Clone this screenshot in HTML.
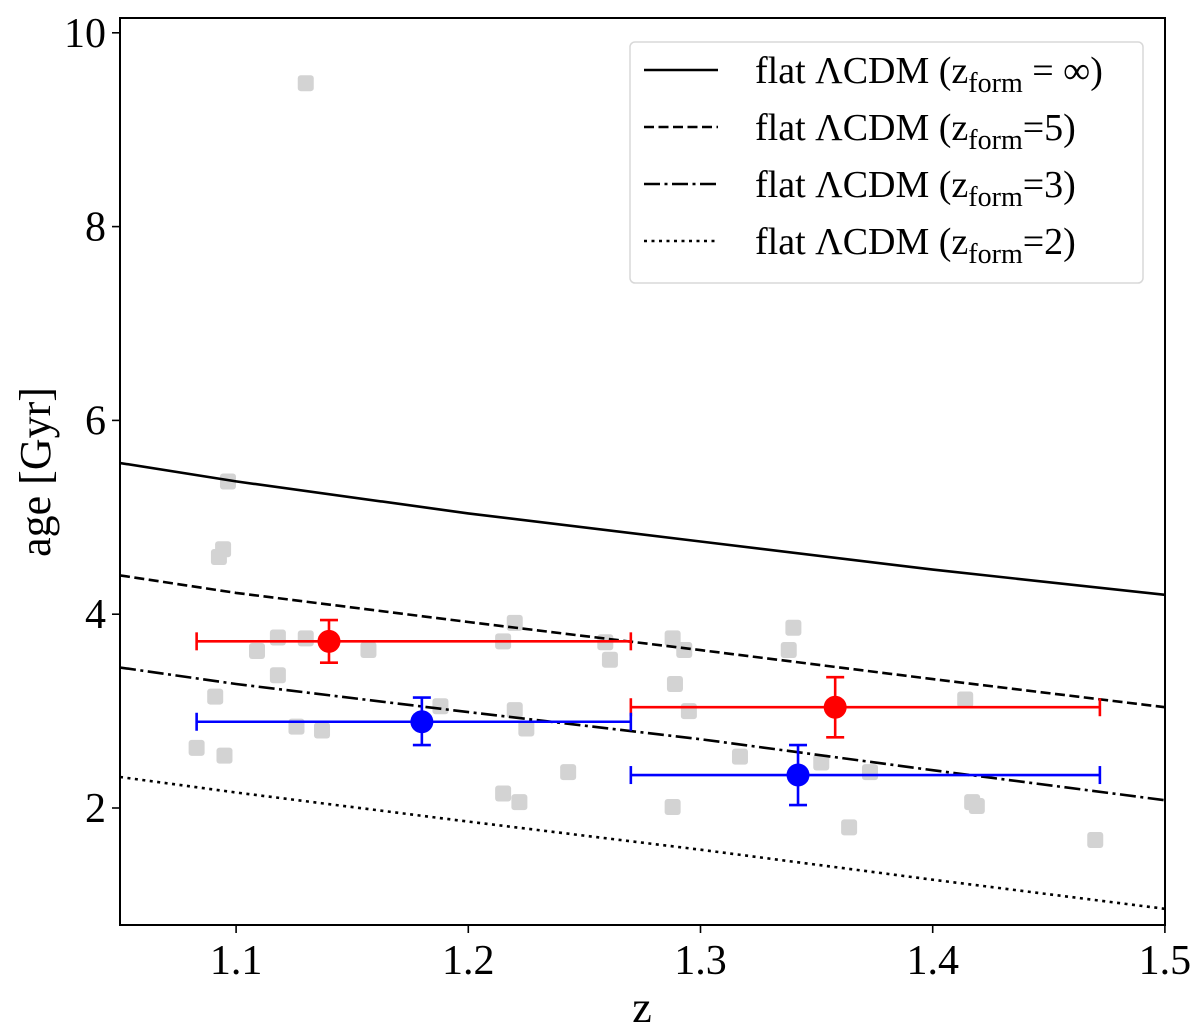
<!DOCTYPE html>
<html><head><meta charset="utf-8"><style>
html,body{margin:0;padding:0;background:#fff}
svg{display:block;font-family:"Liberation Serif","DejaVu Serif",serif}
</style></head><body>
<svg id="chart" width="1200" height="1029" viewBox="0 0 1200 1029">
</svg>
<script>
const curveZ=[1.05,1.1,1.2,1.3,1.4,1.5];
const curveInf=[5.56,5.37,5.04,4.75,4.46,4.20];
const curve5=[4.40,4.22,3.92,3.63,3.33,3.04];
const curve3=[3.45,3.28,2.99,2.71,2.39,2.08];
const curve2=[2.32,2.16,1.86,1.57,1.26,0.96];
const grayZ=[1.130,1.0965,1.0944,1.0926,1.118,1.109,1.118,1.130,1.157,1.091,1.083,1.095,1.126,1.137,1.188,1.215,1.220,1.259,1.261,1.220,1.225,1.215,1.222,1.243,1.288,1.293,1.289,1.295,1.288,1.317,1.338,1.340,1.352,1.373,1.364,1.414,1.417,1.419,1.470];
const grayAge=[9.48,5.37,4.67,4.59,3.76,3.62,3.37,3.75,3.63,3.15,2.62,2.54,2.84,2.80,3.05,3.72,3.91,3.71,3.53,3.01,2.82,2.15,2.06,2.37,3.75,3.63,3.28,3.00,2.01,2.53,3.63,3.86,2.47,2.37,1.80,3.12,2.06,2.02,1.67];
const redZ=[1.140,1.358],redAge=[3.72,3.04],redXlo=[1.083,1.270],redXhi=[1.270,1.472],redYlo=[3.50,2.73],redYhi=[3.94,3.35];
const blueZ=[1.180,1.342],blueAge=[2.89,2.34],blueXlo=[1.083,1.270],blueXhi=[1.270,1.472],blueYlo=[2.65,2.03],blueYhi=[3.14,2.65];
const xTicks=[1.1,1.2,1.3,1.4,1.5];
const yTicks=[2,4,6,8,10];

const NS="http://www.w3.org/2000/svg";
const svg=document.getElementById('chart');
const X=z=>120+(z-1.05)*2322;
const Y=v=>808-(v-2)*96.9;
function mk(tag,attrs,parent){const e=document.createElementNS(NS,tag);for(const k in attrs)e.setAttribute(k,attrs[k]);(parent||svg).appendChild(e);return e;}

const defs=mk('defs',{});const cp=mk('clipPath',{id:'clip'},defs);mk('rect',{x:120,y:18,width:1045,height:907},cp);
const plot=mk('g',{'clip-path':'url(#clip)'});



grayZ.forEach((z,i)=>{const r=mk('rect',{x:X(z)-8,y:Y(grayAge[i])-8,width:16,height:16,rx:3,fill:'#d3d3d3'},plot);

});

function curve(vals,dash,name){const d=curveZ.map((z,i)=>(i?'L':'M')+X(z).toFixed(1)+' '+Y(vals[i]).toFixed(1)).join(' ');
const p=mk('path',{d:d,fill:'none',stroke:'#000','stroke-width':2.6},plot);if(dash)p.setAttribute('stroke-dasharray',dash);

}
curve(curveInf,null,'curve-zform-inf');
curve(curve5,'10,4.5','curve-zform-5');
curve(curve3,'16,4.5,3,4.5','curve-zform-3');
curve(curve2,'3,4.5','curve-zform-2');

function eb(zs,ag,xl,xh,yl,yh,col,name){zs.forEach((z,i)=>{const g=mk('g',{stroke:col,'stroke-width':2.6},plot);


const y=Y(ag[i]),x=X(z);
mk('line',{x1:X(xl[i]),x2:X(xh[i]),y1:y,y2:y},g);
mk('line',{x1:X(xl[i]),x2:X(xl[i]),y1:y-9,y2:y+9},g);
mk('line',{x1:X(xh[i]),x2:X(xh[i]),y1:y-9,y2:y+9},g);
mk('line',{x1:x,x2:x,y1:Y(yl[i]),y2:Y(yh[i])},g);
mk('line',{x1:x-9,x2:x+9,y1:Y(yl[i]),y2:Y(yl[i])},g);
mk('line',{x1:x-9,x2:x+9,y1:Y(yh[i]),y2:Y(yh[i])},g);
mk('circle',{cx:x,cy:y,r:11.5,fill:col,stroke:'none'},g);});}
eb(redZ,redAge,redXlo,redXhi,redYlo,redYhi,'#ff0000','red-bin-point');
eb(blueZ,blueAge,blueXlo,blueXhi,blueYlo,blueYhi,'#0000ff','blue-bin-point');

const fr=mk('rect',{x:120,y:18,width:1045,height:907,fill:'none',stroke:'#000','stroke-width':2});



xTicks.forEach(t=>{mk('line',{x1:X(t),x2:X(t),y1:925,y2:933,stroke:'#000','stroke-width':1.6});
const tx=mk('text',{x:X(t),y:974,'font-size':42,'text-anchor':'middle'});tx.textContent=t.toFixed(1);

});
yTicks.forEach(t=>{mk('line',{x1:112,x2:120,y1:Y(t),y2:Y(t),stroke:'#000','stroke-width':1.6});
const tx=mk('text',{x:106,y:Y(t)+14,'font-size':42,'text-anchor':'end'});tx.textContent=t;

});

const xt=mk('text',{x:642,y:1022,'font-size':44,'text-anchor':'middle'});xt.textContent='z';


const yt=mk('text',{x:0,y:0,'font-size':44,'text-anchor':'middle',transform:'translate(50,472) rotate(-90)'});yt.textContent='age [Gyr]';


const lg=mk('g',{});


mk('rect',{x:630,y:42,width:513,height:241,rx:5,fill:'#fff',stroke:'#d8d8d8','stroke-width':1.5},lg);
const dashes=[null,'10,4.5','16,4.5,3,4.5','3,4.5'];const labels=[' = ∞)','=5)','=3)','=2)'];
dashes.forEach((d,i)=>{const y=76+i*57;
const l=mk('line',{x1:644,x2:718,y1:y-6,y2:y-6,stroke:'#000','stroke-width':2.6},lg);if(d)l.setAttribute('stroke-dasharray',d);


const t=mk('text',{x:755,y:y+7,'font-size':38},lg);


t.innerHTML='flat ΛCDM (z<tspan font-size="28" dy="9">form</tspan><tspan dy="-9">'+labels[i]+'</tspan>';});
</script>
</body></html>
